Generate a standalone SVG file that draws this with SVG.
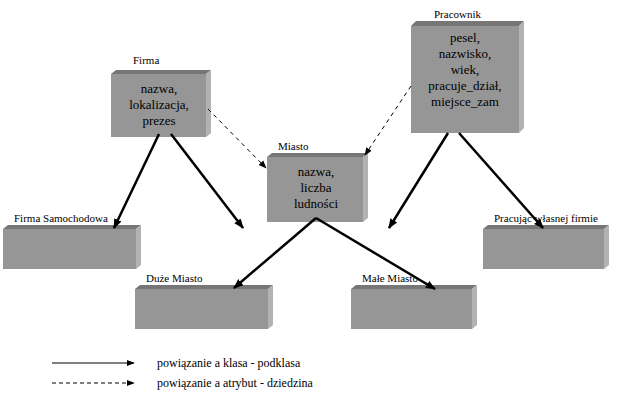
<svg xmlns="http://www.w3.org/2000/svg" width="630" height="400" viewBox="0 0 630 400" font-family="Liberation Serif, Times New Roman, DejaVu Serif, Noto Serif, serif">
<defs>
<style>
.front{fill:#969696}
.top{fill:#767676}
.side{fill:#b2b2b2}
.t{font-size:13px;text-anchor:middle}
.lbl{font-size:11px}
.leg{font-size:12px}
.solid{stroke:#000;stroke-width:2.5;fill:none}
.dash{stroke:#000;stroke-width:1;stroke-dasharray:4,4;fill:none}
</style>
<marker id="ah" viewBox="0 0 10 10" refX="9" refY="5" markerWidth="10" markerHeight="10" markerUnits="userSpaceOnUse" orient="auto">
<path d="M0,1 L10,5 L0,9 z" fill="#000"/>
</marker>
<marker id="ahs" viewBox="0 0 10 10" refX="9" refY="5" markerWidth="8" markerHeight="8" markerUnits="userSpaceOnUse" orient="auto">
<path d="M0,1 L10,5 L0,9 z" fill="#000"/>
</marker>
</defs>
<rect width="630" height="400" fill="#fff"/>

<g id="firma">
<text class="lbl" x="133" y="64">Firma</text>
<polygon class="top" points="111,74 116,70 211,70 206,74"/>
<polygon class="side" points="206,74 211,70 211,133 206,137"/>
<rect class="front" x="111" y="74" width="95" height="63"/>
<text class="t" x="159" y="93">nazwa,</text>
<text class="t" x="159" y="109">lokalizacja,</text>
<text class="t" x="159" y="125">prezes</text>
</g>

<g id="pracownik">
<text class="lbl" x="434" y="18">Pracownik</text>
<polygon class="top" points="411,26 416,21 524,21 519,26"/>
<polygon class="side" points="519,26 524,21 524,128 519,133"/>
<rect class="front" x="411" y="26" width="108" height="107"/>
<text class="t" x="465" y="42">pesel,</text>
<text class="t" x="465" y="58">nazwisko,</text>
<text class="t" x="465" y="74">wiek,</text>
<text class="t" x="465" y="90">pracuje_dział,</text>
<text class="t" x="465" y="106">miejsce_zam</text>
</g>

<g id="miasto">
<text class="lbl" x="278" y="150">Miasto</text>
<polygon class="top" points="267,157 272,153 368,153 363,157"/>
<polygon class="side" points="363,157 368,153 368,218 363,222"/>
<rect class="front" x="267" y="157" width="96" height="65"/>
<text class="t" x="316" y="176">nazwa,</text>
<text class="t" x="316" y="192">liczba</text>
<text class="t" x="316" y="208">ludności</text>
</g>

<g id="firma-samochodowa">
<text class="lbl" x="14" y="222">Firma Samochodowa</text>
<polygon class="top" points="3,229 8,225 141,225 136,229"/>
<polygon class="side" points="136,229 141,225 141,265 136,269"/>
<rect class="front" x="3" y="229" width="133" height="40"/>
</g>

<g id="duze-miasto">
<text class="lbl" x="146" y="282">Duże Miasto</text>
<polygon class="top" points="135,289 140,285 273,285 268,289"/>
<polygon class="side" points="268,289 273,285 273,325 268,329"/>
<rect class="front" x="135" y="289" width="133" height="40"/>
</g>

<g id="male-miasto">
<text class="lbl" x="362" y="282">Małe Miasto</text>
<polygon class="top" points="351,289 356,285 477,285 472,289"/>
<polygon class="side" points="472,289 477,285 477,325 472,329"/>
<rect class="front" x="351" y="289" width="121" height="40"/>
</g>

<g id="pracujacy">
<text class="lbl" x="494" y="222">Pracując własnej firmie</text>
<polygon class="top" points="483,229 488,225 609,225 604,229"/>
<polygon class="side" points="604,229 609,225 609,265 604,269"/>
<rect class="front" x="483" y="229" width="121" height="40"/>
</g>

<g id="connectors">
<line class="solid" x1="159" y1="134" x2="114" y2="228" marker-end="url(#ah)"/>
<line class="solid" x1="171" y1="134" x2="243" y2="228" marker-end="url(#ah)"/>
<line class="solid" x1="448" y1="133" x2="389" y2="228" marker-end="url(#ah)"/>
<line class="solid" x1="459" y1="133" x2="543" y2="228" marker-end="url(#ah)"/>
<line class="solid" x1="316" y1="218" x2="234" y2="288" marker-end="url(#ah)"/>
<line class="solid" x1="316" y1="218" x2="435" y2="289" marker-end="url(#ah)"/>
<line class="dash" x1="208" y1="109" x2="266" y2="168" marker-end="url(#ahs)"/>
<line class="dash" x1="411" y1="86" x2="365" y2="155" marker-end="url(#ahs)"/>
</g>

<g id="legend">
<line x1="52" y1="363" x2="134" y2="363" stroke="#000" stroke-width="1" marker-end="url(#ahs)"/>
<line x1="52" y1="383" x2="134" y2="383" stroke="#000" stroke-width="1" stroke-dasharray="4,3" marker-end="url(#ahs)"/>
<text class="leg" x="157" y="367">powiązanie a klasa - podklasa</text>
<text class="leg" x="157" y="387">powiązanie a atrybut - dziedzina</text>
</g>
</svg>
